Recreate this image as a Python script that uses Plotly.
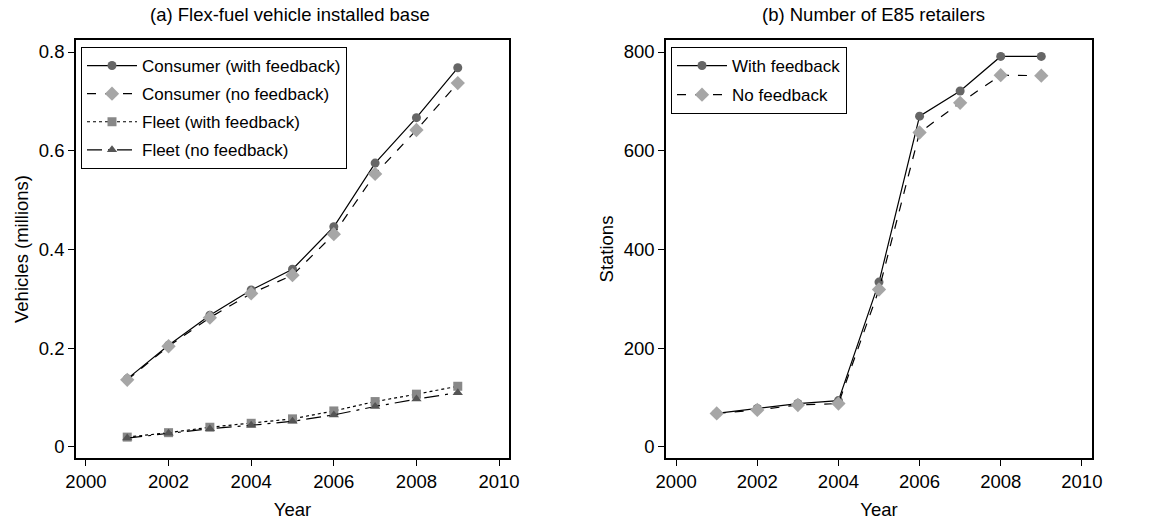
import plotly.graph_objects as go

years = [2001, 2002, 2003, 2004, 2005, 2006, 2007, 2008, 2009]

consumer_fb = [0.138, 0.206, 0.267, 0.318, 0.360, 0.446, 0.575, 0.667, 0.768]
consumer_nofb = [0.136, 0.204, 0.262, 0.311, 0.348, 0.431, 0.553, 0.642, 0.737]
fleet_fb = [0.020, 0.029, 0.040, 0.048, 0.057, 0.073, 0.092, 0.107, 0.123]
fleet_nofb = [0.018, 0.028, 0.037, 0.044, 0.052, 0.065, 0.082, 0.097, 0.110]

stations_fb = [68, 78, 88, 94, 334, 670, 721, 791, 791]
stations_nofb = [68, 75, 85, 88, 319, 637, 697, 753, 752]

FONT = "Liberation Sans, Arial, sans-serif"
FS = 18.5

W, H = 1169.0, 524.0
ML, MR, MT, MB = 76, 77, 40, 66
PW = W - ML - MR
PH = H - MT - MB

def px(x):
    return (x - ML) / PW

def py(y):
    return 1 - (y - MT) / PH

fig = go.Figure()

def add(x, y, name, symbol, mcolor, dash, xa, ya, legend, size=9):
    fig.add_trace(go.Scatter(
        x=x, y=y, name=name, mode="lines+markers",
        line=dict(color="black", width=1.2, dash=dash),
        marker=dict(symbol=symbol, color=mcolor, size=size),
        xaxis=xa, yaxis=ya, legend=legend, legendgroup=name))

add(years, consumer_fb, "Consumer (with feedback)", "circle", "#666666", "solid", "x", "y", "legend", 9)
add(years, consumer_nofb, "Consumer (no feedback)", "diamond", "#a6a6a6", "dash", "x", "y", "legend", 11)
add(years, fleet_fb, "Fleet (with feedback)", "square", "#888888", "dot", "x", "y", "legend", 9)
add(years, fleet_nofb, "Fleet (no feedback)", "triangle-up", "#555555", "longdashdot", "x", "y", "legend", 9)

add(years, stations_fb, "With feedback", "circle", "#666666", "solid", "x2", "y2", "legend2", 9)
add(years, stations_nofb, "No feedback", "diamond", "#a6a6a6", "dash", "x2", "y2", "legend2", 11)

axis_common = dict(showline=True, linecolor="black", linewidth=1.5, mirror=True,
                   ticks="outside", ticklen=6, tickcolor="black", tickwidth=1,
                   showgrid=False, zeroline=False, automargin=False,
                   tickfont=dict(family=FONT, size=FS, color="black"))

title_font = dict(family=FONT, size=FS, color="black")
xticks = [2000, 2002, 2004, 2006, 2008, 2010]

fig.update_layout(
    width=1169, height=524,
    margin=dict(l=ML, r=MR, t=MT, b=MB),
    paper_bgcolor="white", plot_bgcolor="white",
    font=dict(family=FONT, size=FS, color="black"),
    xaxis=dict(domain=[0, px(509)], range=[1999.76, 2010.24], tickvals=xticks,
               title=dict(text="Year", standoff=12, font=title_font), anchor="y", **axis_common),
    yaxis=dict(domain=[0, 1], range=[-0.0223, 0.8243],
               tickvals=[0, 0.2, 0.4, 0.6, 0.8], ticktext=["0", "0.2", "0.4", "0.6", "0.8"],
               title=dict(text="Vehicles (millions)", standoff=5, font=title_font), anchor="x", **axis_common),
    xaxis2=dict(domain=[px(666), 1], range=[1999.75, 2010.25], tickvals=xticks,
                title=dict(text="Year", standoff=12, font=title_font), anchor="y2", **axis_common),
    yaxis2=dict(domain=[0, 1], range=[-22.3, 824.3],
                tickvals=[0, 200, 400, 600, 800],
                title=dict(text="Stations", standoff=5, font=title_font), anchor="x2", **axis_common),
    legend=dict(x=px(81), y=py(47), xanchor="left", yanchor="top",
                bordercolor="black", borderwidth=1, bgcolor="white",
                font=dict(family=FONT, size=17, color="black"),
                tracegroupgap=3, itemwidth=50),
    legend2=dict(x=px(671), y=py(47), xanchor="left", yanchor="top",
                 bordercolor="black", borderwidth=1, bgcolor="white",
                 font=dict(family=FONT, size=17, color="black"),
                 tracegroupgap=4, itemwidth=50),
    annotations=[
        dict(text="(a) Flex-fuel vehicle installed base", x=px(290), y=py(14),
             xref="paper", yref="paper", showarrow=False, xanchor="center", yanchor="middle",
             font=title_font),
        dict(text="(b) Number of E85 retailers", x=px(873), y=py(14),
             xref="paper", yref="paper", showarrow=False, xanchor="center", yanchor="middle",
             font=title_font),
    ],
)

fig.write_html("out.html", config={"displayModeBar": False},
               post_script="document.body.style.margin='0';")
